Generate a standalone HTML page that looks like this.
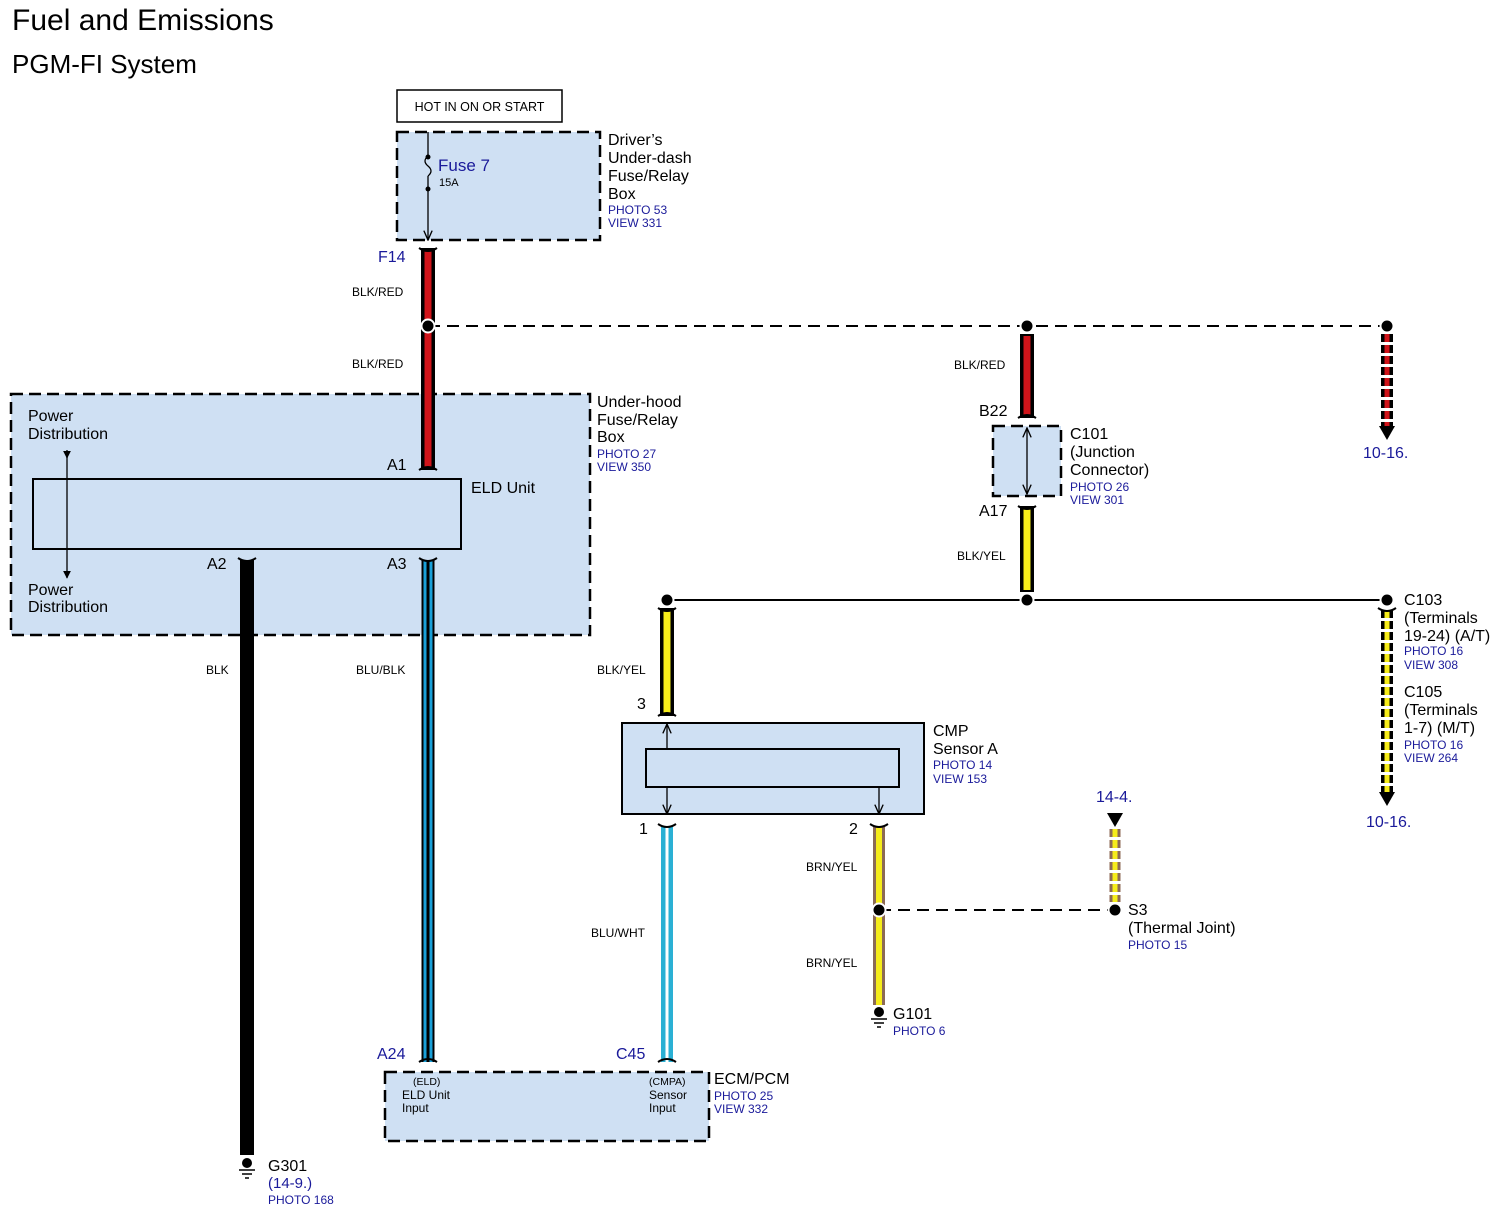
<!DOCTYPE html>
<html><head><meta charset="utf-8"><style>
body{margin:0;background:#fff}
svg{display:block;font-family:"Liberation Sans",Arial,sans-serif}
.b{fill:#1a1a9a}
</style></head><body>
<svg width="1510" height="1222" viewBox="0 0 1510 1222" xmlns="http://www.w3.org/2000/svg">
<defs>
<marker id="ar" viewBox="0 0 10 10" refX="9" refY="5" markerWidth="8" markerHeight="8" orient="auto-start-reverse"><path d="M0,1 L9,5 L0,9" fill="none" stroke="#000" stroke-width="1.3"/></marker>
<marker id="tri" viewBox="0 0 10 10" refX="9" refY="5" markerWidth="6" markerHeight="6" orient="auto"><path d="M0,0 L10,5 L0,10z" fill="#000"/></marker>
</defs>
<text x="12" y="30" font-size="30">Fuel and Emissions</text>
<text x="12" y="73" font-size="26">PGM-FI System</text>

<rect x="397" y="90" width="165" height="32" fill="#fff" stroke="#000" stroke-width="1.5"/>
<text x="479.5" y="111" font-size="12.5" text-anchor="middle">HOT IN ON OR START</text>

<rect x="397" y="132" width="203" height="108" fill="#cfe0f3" stroke="#000" stroke-width="2.5" stroke-dasharray="12,6"/>
<line x1="428" y1="132" x2="428" y2="156" stroke="#000" stroke-width="1.3"/>
<path d="M428,156 q-6,5 0,10 q6,5 0,10" fill="none" stroke="#000" stroke-width="1.3"/>
<line x1="428" y1="190" x2="428" y2="240" stroke="#000" stroke-width="1.3" marker-end="url(#ar)"/>
<line x1="428" y1="176" x2="428" y2="190" stroke="#000" stroke-width="1.3"/>
<circle cx="428" cy="157" r="2.5"/><circle cx="428" cy="189" r="2.5"/>
<text x="438" y="171" font-size="17" class="b">Fuse 7</text>
<text x="439" y="186" font-size="11">15A</text>
<g font-size="16"><text x="608" y="145">Driver’s</text><text x="608" y="163">Under-dash</text><text x="608" y="181">Fuse/Relay</text><text x="608" y="199">Box</text></g>
<text x="608" y="214" font-size="12" class="b">PHOTO 53</text><text x="608" y="227" font-size="12" class="b">VIEW 331</text>
<text x="378" y="262" font-size="16" class="b">F14</text>

<rect x="11" y="394" width="579" height="241" fill="#cfe0f3" stroke="#000" stroke-width="2.5" stroke-dasharray="12,6"/>
<rect x="33" y="479" width="428" height="70" fill="#cfe0f3" stroke="#000" stroke-width="2"/>
<line x1="67" y1="450" x2="67" y2="458" stroke="#000" stroke-width="1.3" marker-end="url(#tri)"/>
<line x1="67" y1="456" x2="67" y2="578" stroke="#000" stroke-width="1.3" marker-end="url(#tri)"/>
<g font-size="16"><text x="28" y="421">Power</text><text x="28" y="439">Distribution</text><text x="28" y="595">Power</text><text x="28" y="612">Distribution</text>
<text x="597" y="407">Under-hood</text><text x="597" y="425">Fuse/Relay</text><text x="597" y="442">Box</text>
<text x="471" y="493">ELD Unit</text>
<text x="387" y="470">A1</text><text x="207" y="569">A2</text><text x="387" y="569">A3</text></g>
<text x="597" y="458" font-size="12" class="b">PHOTO 27</text><text x="597" y="471" font-size="12" class="b">VIEW 350</text>

<g>
<line x1="428" y1="248" x2="428" y2="470" stroke="#000" stroke-width="14"/>
<line x1="428" y1="250" x2="428" y2="468" stroke="#d0141a" stroke-width="7"/>
<line x1="247" y1="560" x2="247" y2="1155" stroke="#000" stroke-width="14"/>
<line x1="428" y1="560" x2="428" y2="1062" stroke="#000" stroke-width="13"/>
<line x1="428" y1="560" x2="428" y2="1062" stroke="#1aa0d8" stroke-width="9"/>
<line x1="428" y1="560" x2="428" y2="1062" stroke="#000" stroke-width="3"/>
<line x1="1027" y1="334" x2="1027" y2="418" stroke="#000" stroke-width="14"/>
<line x1="1027" y1="336" x2="1027" y2="416" stroke="#d0141a" stroke-width="7"/>
<line x1="1027" y1="506" x2="1027" y2="592" stroke="#000" stroke-width="14"/>
<line x1="1027" y1="508" x2="1027" y2="590" stroke="#f6ec1a" stroke-width="7"/>
<line x1="667" y1="608" x2="667" y2="716" stroke="#000" stroke-width="14"/>
<line x1="667" y1="610" x2="667" y2="714" stroke="#f6ec1a" stroke-width="7"/>
<line x1="667" y1="826" x2="667" y2="1062" stroke="#2ab0d4" stroke-width="12"/>
<line x1="667" y1="826" x2="667" y2="1062" stroke="#fff" stroke-width="3"/>
<line x1="879" y1="826" x2="879" y2="1005" stroke="#8c6a55" stroke-width="12"/>
<line x1="879" y1="826" x2="879" y2="1005" stroke="#f6ec1a" stroke-width="6"/>
<line x1="1387" y1="334" x2="1387" y2="428" stroke="#000" stroke-width="12" stroke-dasharray="8,3"/>
<line x1="1387" y1="334" x2="1387" y2="428" stroke="#d0141a" stroke-width="5" stroke-dasharray="8,3"/>
<path d="M1379,426 L1395,426 L1387,440z"/>
<line x1="1387" y1="610" x2="1387" y2="794" stroke="#000" stroke-width="12" stroke-dasharray="8,3"/>
<line x1="1387" y1="610" x2="1387" y2="794" stroke="#f6ec1a" stroke-width="5" stroke-dasharray="8,3"/>
<path d="M1379,792 L1395,792 L1387,806z"/>
<line x1="1115" y1="829" x2="1115" y2="902" stroke="#8c6a55" stroke-width="11" stroke-dasharray="8,3"/>
<line x1="1115" y1="829" x2="1115" y2="902" stroke="#f6ec1a" stroke-width="5" stroke-dasharray="8,3"/>
<path d="M1107,813 L1123,813 L1115,827z"/>
</g>
<g fill="none" stroke="#000" stroke-width="2">
<path d="M419,470 q9,-6 18,0"/><path d="M238,558 q9,6 18,0"/><path d="M419,558 q9,6 18,0"/>
<path d="M419,1062 q9,-6 18,0"/><path d="M658,1062 q9,-6 18,0"/>
<path d="M1018,418 q9,-6 18,0"/><path d="M1018,506 q9,6 18,0"/>
<path d="M658,716 q9,-6 18,0"/><path d="M658,608 q9,6 18,0"/>
<path d="M658,824 q9,6 18,0"/><path d="M870,824 q9,6 18,0"/>
<path d="M419,248 q9,6 18,0"/><path d="M1378,608 q9,6 18,0"/>
</g>
<line x1="428" y1="326" x2="1387" y2="326" stroke="#000" stroke-width="2" stroke-dasharray="12,7"/>
<line x1="667" y1="600" x2="1387" y2="600" stroke="#000" stroke-width="2"/>
<line x1="879" y1="910" x2="1115" y2="910" stroke="#000" stroke-width="2" stroke-dasharray="12,7"/>
<g fill="#000" stroke="#fff" stroke-width="2">
<circle cx="428" cy="326" r="6.5"/><circle cx="1027" cy="326" r="6.5"/><circle cx="1387" cy="326" r="6.5"/>
<circle cx="667" cy="600" r="6.5"/><circle cx="1027" cy="600" r="6.5"/><circle cx="1387" cy="600" r="6.5"/>
<circle cx="879" cy="910" r="6.5"/><circle cx="1115" cy="910" r="6.5"/>
</g>
<g font-size="12"><text x="352" y="296">BLK/RED</text><text x="352" y="368">BLK/RED</text><text x="954" y="369">BLK/RED</text>
<text x="957" y="560">BLK/YEL</text><text x="597" y="674">BLK/YEL</text><text x="206" y="674">BLK</text><text x="356" y="674">BLU/BLK</text>
<text x="591" y="937">BLU/WHT</text><text x="806" y="871">BRN/YEL</text><text x="806" y="967">BRN/YEL</text></g>

<rect x="993" y="426" width="68" height="70" fill="#cfe0f3" stroke="#000" stroke-width="2.5" stroke-dasharray="12,6"/>
<line x1="1027" y1="428" x2="1027" y2="494" stroke="#000" stroke-width="1.3" marker-start="url(#ar)" marker-end="url(#ar)"/>
<g font-size="16"><text x="979" y="416">B22</text><text x="979" y="516">A17</text>
<text x="1070" y="439">C101</text><text x="1070" y="457">(Junction</text><text x="1070" y="475">Connector)</text></g>
<text x="1070" y="491" font-size="12" class="b">PHOTO 26</text><text x="1070" y="504" font-size="12" class="b">VIEW 301</text>
<text x="1363" y="458" font-size="16" class="b">10-16.</text>
<text x="1366" y="827" font-size="16" class="b">10-16.</text>
<g font-size="16"><text x="1404" y="605">C103</text><text x="1404" y="623">(Terminals</text><text x="1404" y="641">19-24) (A/T)</text>
<text x="1404" y="697">C105</text><text x="1404" y="715">(Terminals</text><text x="1404" y="733">1-7) (M/T)</text></g>
<g font-size="12" class="b"><text x="1404" y="655">PHOTO 16</text><text x="1404" y="669">VIEW 308</text><text x="1404" y="749">PHOTO 16</text><text x="1404" y="762">VIEW 264</text></g>

<rect x="622" y="723" width="302" height="91" fill="#cfe0f3" stroke="#000" stroke-width="2"/>
<rect x="646" y="749" width="253" height="38" fill="#cfe0f3" stroke="#000" stroke-width="2"/>
<line x1="667" y1="749" x2="667" y2="724" stroke="#000" stroke-width="1.3" marker-end="url(#ar)"/>
<line x1="667" y1="787" x2="667" y2="814" stroke="#000" stroke-width="1.3" marker-end="url(#ar)"/>
<line x1="879" y1="787" x2="879" y2="814" stroke="#000" stroke-width="1.3" marker-end="url(#ar)"/>
<g font-size="16"><text x="637" y="709">3</text><text x="639" y="834">1</text><text x="849" y="834">2</text>
<text x="933" y="736">CMP</text><text x="933" y="754">Sensor A</text></g>
<text x="933" y="769" font-size="12" class="b">PHOTO 14</text><text x="933" y="783" font-size="12" class="b">VIEW 153</text>
<text x="1096" y="802" font-size="16" class="b">14-4.</text>
<g font-size="16"><text x="1128" y="915">S3</text><text x="1128" y="933">(Thermal Joint)</text></g>
<text x="1128" y="949" font-size="12" class="b">PHOTO 15</text>

<g stroke="#000" stroke-width="1.5">
<circle cx="879" cy="1012" r="5" stroke="none"/><line x1="871" y1="1019" x2="887" y2="1019"/><line x1="874" y1="1023" x2="884" y2="1023"/><line x1="877" y1="1027" x2="881" y2="1027"/>
<circle cx="247" cy="1163" r="5" stroke="none"/><line x1="239" y1="1170" x2="255" y2="1170"/><line x1="242" y1="1174" x2="252" y2="1174"/><line x1="245" y1="1178" x2="249" y2="1178"/>
</g>
<text x="893" y="1019" font-size="16">G101</text><text x="893" y="1035" font-size="12" class="b">PHOTO 6</text>
<text x="268" y="1171" font-size="16">G301</text><text x="268" y="1188" font-size="15" class="b">(14-9.)</text><text x="268" y="1204" font-size="12" class="b">PHOTO 168</text>

<rect x="385" y="1072" width="324" height="69" fill="#cfe0f3" stroke="#000" stroke-width="2.5" stroke-dasharray="12,6"/>
<g font-size="16"><text x="377" y="1059" class="b">A24</text><text x="616" y="1059" class="b">C45</text><text x="714" y="1084">ECM/PCM</text></g>
<text x="714" y="1100" font-size="12" class="b">PHOTO 25</text><text x="714" y="1113" font-size="12" class="b">VIEW 332</text>
<g font-size="12"><text x="413" y="1085" font-size="10.5">(ELD)</text><text x="402" y="1099">ELD Unit</text><text x="402" y="1112">Input</text>
<text x="649" y="1085" font-size="10.5">(CMPA)</text><text x="649" y="1099">Sensor</text><text x="649" y="1112">Input</text></g>
</svg>
</body></html>
